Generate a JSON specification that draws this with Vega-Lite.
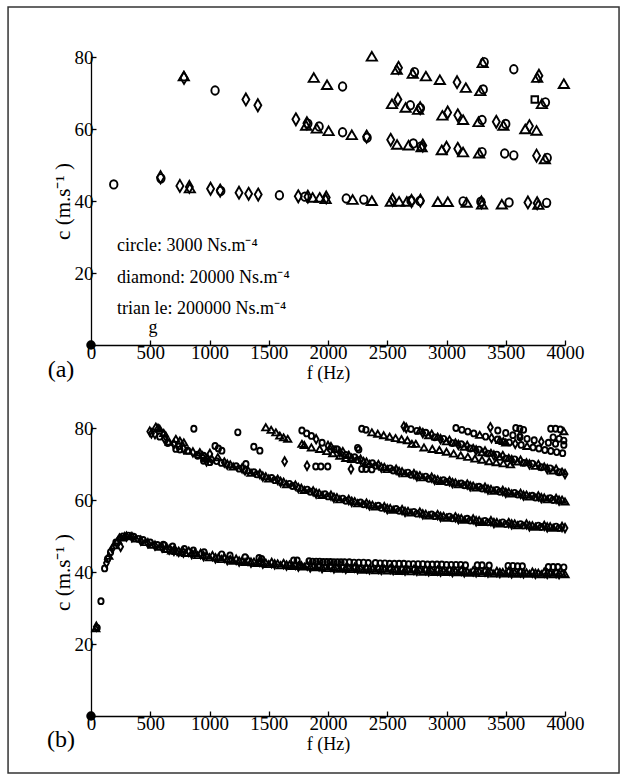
{
"$schema":"https://vega.github.io/schema/vega-lite/v6.json",
"padding":{"left":7,"top":6,"right":0,"bottom":0},
"background":"white",
"bounds":"flush",
"spacing":83,
"config":{"view":{"stroke":null},"font":"Liberation Serif",
"axis":{"labelFont":"Liberation Serif","titleFont":"Liberation Serif","labelFontSize":19,"titleFontSize":18,"titleFontWeight":"normal","labelColor":"black","titleColor":"black","domainColor":"black","tickColor":"black","domainWidth":1.3,"tickWidth":1.3,"tickSize":-5,"grid":false,"labelPadding":3,"titlePadding":0,"labelFlush":false},
"axisX":{"titlePadding":2},
"axisY":{"titleFontSize":21,"titlePadding":1}},
"datasets":{
"a":[
{"f":0,"c":0,"m":"b"},
{"f":783,"c":74.7,"m":"t"},{"f":785,"c":74.2,"m":"d"},{"f":1047,"c":70.7,"m":"o"},{"f":1307,"c":68.2,"m":"d"},{"f":1408,"c":66.6,"m":"d"},
{"f":1880,"c":74.3,"m":"t"},{"f":1992,"c":72.3,"m":"t"},{"f":2123,"c":71.8,"m":"o"},{"f":2370,"c":80.2,"m":"t"},
{"f":2580,"c":76.5,"m":"t"},{"f":2595,"c":77.0,"m":"d"},{"f":2715,"c":75.4,"m":"t"},{"f":2730,"c":75.8,"m":"o"},
{"f":2826,"c":74.7,"m":"t"},{"f":2944,"c":73.7,"m":"t"},{"f":3089,"c":73.0,"m":"d"},{"f":3163,"c":71.5,"m":"t"},
{"f":3285,"c":70.6,"m":"t"},{"f":3310,"c":71.0,"m":"o"},{"f":3305,"c":78.4,"m":"t"},{"f":3318,"c":78.6,"m":"o"},
{"f":3568,"c":76.6,"m":"o"},{"f":3765,"c":74.3,"m":"t"},{"f":3780,"c":74.8,"m":"d"},{"f":3990,"c":72.6,"m":"t"},
{"f":2540,"c":67.0,"m":"t"},{"f":2590,"c":68.2,"m":"d"},{"f":2655,"c":66.0,"m":"t"},{"f":2695,"c":66.6,"m":"o"},
{"f":2760,"c":65.4,"m":"t"},{"f":2780,"c":65.8,"m":"o"},{"f":2778,"c":65.8,"m":"d"},{"f":2965,"c":63.8,"m":"t"},{"f":3010,"c":64.6,"m":"d"},
{"f":3095,"c":63.8,"m":"d"},{"f":3140,"c":62.6,"m":"t"},{"f":3270,"c":62.0,"m":"t"},{"f":3300,"c":62.5,"m":"o"},
{"f":3420,"c":62.0,"m":"d"},{"f":3480,"c":61.0,"m":"t"},{"f":3500,"c":61.4,"m":"o"},{"f":3665,"c":60.0,"m":"t"},{"f":3700,"c":60.8,"m":"d"},{"f":3760,"c":59.6,"m":"t"},
{"f":3745,"c":68.2,"m":"s"},{"f":3805,"c":67.0,"m":"t"},{"f":3835,"c":67.4,"m":"o"},
{"f":1729,"c":62.7,"m":"d"},{"f":1815,"c":61.0,"m":"t"},{"f":1830,"c":61.5,"m":"o"},{"f":1822,"c":61.6,"m":"d"},
{"f":1905,"c":60.2,"m":"t"},{"f":1925,"c":60.7,"m":"o"},{"f":2005,"c":59.5,"m":"t"},{"f":2123,"c":59.1,"m":"o"},{"f":2201,"c":58.4,"m":"t"},
{"f":2326,"c":57.9,"m":"d"},{"f":2330,"c":57.6,"m":"o"},{"f":2529,"c":57.0,"m":"d"},{"f":2583,"c":55.7,"m":"t"},
{"f":2680,"c":55.5,"m":"t"},{"f":2720,"c":56.0,"m":"o"},{"f":2785,"c":55.2,"m":"o"},{"f":2790,"c":55.0,"m":"t"},{"f":2800,"c":55.4,"m":"d"},
{"f":2960,"c":54.2,"m":"t"},{"f":3000,"c":54.8,"m":"d"},{"f":3095,"c":54.5,"m":"d"},{"f":3140,"c":53.6,"m":"t"},
{"f":3275,"c":53.3,"m":"t"},{"f":3300,"c":53.6,"m":"o"},{"f":3491,"c":53.2,"m":"o"},{"f":3568,"c":52.7,"m":"o"},
{"f":3760,"c":52.6,"m":"d"},{"f":3830,"c":51.7,"m":"t"},{"f":3850,"c":52.0,"m":"o"},
{"f":192,"c":44.6,"m":"o"},{"f":587,"c":46.6,"m":"d"},{"f":590,"c":46.3,"m":"o"},{"f":750,"c":44.2,"m":"d"},{"f":834,"c":43.6,"m":"t"},{"f":830,"c":43.9,"m":"d"},
{"f":1009,"c":43.4,"m":"d"},{"f":1090,"c":42.9,"m":"d"},{"f":1095,"c":42.8,"m":"o"},{"f":1249,"c":42.3,"m":"d"},{"f":1330,"c":42.0,"m":"d"},{"f":1411,"c":41.8,"m":"d"},
{"f":1590,"c":41.6,"m":"o"},{"f":1749,"c":41.3,"m":"d"},{"f":1805,"c":41.2,"m":"o"},{"f":1830,"c":41.2,"m":"d"},{"f":1870,"c":41.0,"m":"t"},{"f":1930,"c":41.0,"m":"t"},{"f":1985,"c":41.0,"m":"d"},{"f":1980,"c":40.6,"m":"t"},
{"f":2154,"c":40.7,"m":"o"},{"f":2208,"c":40.4,"m":"t"},{"f":2302,"c":40.4,"m":"o"},{"f":2370,"c":40.1,"m":"t"},
{"f":2530,"c":39.9,"m":"t"},{"f":2545,"c":40.3,"m":"d"},{"f":2600,"c":39.9,"m":"t"},{"f":2665,"c":39.9,"m":"t"},{"f":2700,"c":40.1,"m":"o"},{"f":2705,"c":40.0,"m":"d"},{"f":2775,"c":40.0,"m":"o"},{"f":2780,"c":40.1,"m":"d"},
{"f":2927,"c":39.8,"m":"t"},{"f":3011,"c":39.8,"m":"t"},{"f":3140,"c":39.9,"m":"o"},{"f":3170,"c":39.6,"m":"t"},
{"f":3290,"c":39.8,"m":"o"},{"f":3300,"c":39.1,"m":"t"},{"f":3295,"c":39.6,"m":"d"},{"f":3467,"c":39.1,"m":"t"},{"f":3528,"c":39.6,"m":"o"},
{"f":3687,"c":39.6,"m":"d"},{"f":3765,"c":39.4,"m":"d"},{"f":3775,"c":39.0,"m":"t"},{"f":3845,"c":39.5,"m":"o"}
],
"b":[
{"f":0,"c":0,"m":"b"},
{"f":40,"c":24.4,"m":"t"},{"f":45,"c":24.8,"m":"d"},{"f":52,"c":24.5,"m":"o"},{"f":84,"c":31.9,"m":"o"},{"f":115,"c":41.0,"m":"o"},{"f":130,"c":42.5,"m":"d"},{"f":140,"c":43.6,"m":"o"},{"f":150,"c":44.5,"m":"t"},{"f":165,"c":45.5,"m":"o"},{"f":180,"c":46.5,"m":"d"},{"f":195,"c":47.4,"m":"t"},{"f":210,"c":48.2,"m":"o"},{"f":225,"c":48.8,"m":"t"},{"f":240,"c":49.3,"m":"d"},{"f":250,"c":47.0,"m":"d"},{"f":255,"c":49.6,"m":"t"},{"f":270,"c":49.9,"m":"o"},{"f":285,"c":50.0,"m":"t"},{"f":300,"c":49.8,"m":"d"},{"f":315,"c":50.1,"m":"o"},{"f":330,"c":49.9,"m":"t"},{"f":345,"c":49.7,"m":"d"},{"f":360,"c":49.8,"m":"o"},{"f":380,"c":49.3,"m":"t"},{"f":400,"c":49.2,"m":"o"},{"f":420,"c":48.7,"m":"d"},{"f":440,"c":48.9,"m":"o"},{"f":460,"c":48.3,"m":"t"},{"f":480,"c":48.0,"m":"d"},{"f":500,"c":48.2,"m":"o"},{"f":520,"c":47.6,"m":"t"},{"f":540,"c":47.3,"m":"d"},{"f":560,"c":47.5,"m":"o"},{"f":580,"c":47.0,"m":"t"},{"f":600,"c":46.8,"m":"d"},{"f":620,"c":47.4,"m":"o"},{"f":640,"c":46.4,"m":"t"},{"f":660,"c":46.2,"m":"d"},{"f":680,"c":46.0,"m":"t"},{"f":700,"c":45.9,"m":"d"},{"f":720,"c":45.8,"m":"t"},{"f":740,"c":45.6,"m":"d"},{"f":760,"c":45.5,"m":"t"},{"f":780,"c":45.4,"m":"d"},
{"f":800,"c":45.3,"m":"t"},{"f":850,"c":45.0,"m":"d"},{"f":900,"c":44.7,"m":"t"},{"f":950,"c":44.4,"m":"d"},{"f":1000,"c":44.1,"m":"t"},{"f":1050,"c":43.8,"m":"d"},{"f":1100,"c":43.6,"m":"t"},{"f":1150,"c":43.3,"m":"d"},{"f":1200,"c":43.1,"m":"t"},{"f":1250,"c":42.9,"m":"d"},{"f":1300,"c":42.8,"m":"t"},{"f":1350,"c":42.6,"m":"d"},{"f":1400,"c":42.5,"m":"t"},{"f":1450,"c":42.3,"m":"d"},{"f":1500,"c":42.2,"m":"t"},{"f":1550,"c":42.1,"m":"d"},{"f":1600,"c":41.9,"m":"t"},{"f":1650,"c":41.8,"m":"d"},{"f":1700,"c":41.7,"m":"t"},{"f":1750,"c":41.5,"m":"d"},{"f":1800,"c":41.5,"m":"t"},{"f":1850,"c":41.3,"m":"d"},{"f":1900,"c":41.3,"m":"t"},{"f":1950,"c":41.1,"m":"d"},{"f":2000,"c":41.1,"m":"t"},{"f":2050,"c":41.0,"m":"d"},{"f":2100,"c":40.9,"m":"t"},{"f":2150,"c":40.9,"m":"d"},{"f":2200,"c":40.8,"m":"t"},{"f":2250,"c":40.8,"m":"d"},{"f":2300,"c":40.6,"m":"t"},{"f":2350,"c":40.7,"m":"d"},{"f":2400,"c":40.5,"m":"t"},{"f":2450,"c":40.6,"m":"d"},{"f":2500,"c":40.4,"m":"t"},{"f":2550,"c":40.5,"m":"d"},{"f":2600,"c":40.3,"m":"t"},{"f":2650,"c":40.4,"m":"d"},{"f":2700,"c":40.2,"m":"t"},{"f":2750,"c":40.3,"m":"d"},{"f":2800,"c":40.1,"m":"t"},{"f":2850,"c":40.2,"m":"d"},{"f":2900,"c":40.0,"m":"t"},{"f":2950,"c":40.1,"m":"d"},{"f":3000,"c":40.0,"m":"t"},{"f":3050,"c":40.0,"m":"d"},{"f":3100,"c":39.9,"m":"t"},{"f":3150,"c":39.9,"m":"d"},{"f":3200,"c":39.8,"m":"t"},{"f":3250,"c":39.9,"m":"d"},{"f":3300,"c":39.7,"m":"t"},{"f":3350,"c":39.8,"m":"d"},{"f":3400,"c":39.6,"m":"t"},{"f":3450,"c":39.7,"m":"d"},{"f":3500,"c":39.6,"m":"t"},{"f":3550,"c":39.6,"m":"d"},{"f":3600,"c":39.5,"m":"t"},{"f":3650,"c":39.6,"m":"d"},{"f":3700,"c":39.5,"m":"t"},{"f":3750,"c":39.5,"m":"d"},{"f":3800,"c":39.4,"m":"t"},{"f":3850,"c":39.5,"m":"d"},{"f":3900,"c":39.4,"m":"t"},{"f":3950,"c":39.4,"m":"d"},{"f":4000,"c":39.4,"m":"t"},
{"f":825,"c":45.6,"m":"d"},{"f":875,"c":45.3,"m":"t"},{"f":925,"c":45.0,"m":"d"},{"f":975,"c":44.7,"m":"t"},{"f":1025,"c":44.4,"m":"d"},{"f":1075,"c":44.1,"m":"t"},{"f":1125,"c":43.9,"m":"d"},{"f":1175,"c":43.6,"m":"t"},{"f":1225,"c":43.4,"m":"d"},{"f":1275,"c":43.2,"m":"t"},{"f":1325,"c":43.1,"m":"d"},{"f":1375,"c":42.9,"m":"t"},{"f":1425,"c":42.8,"m":"d"},{"f":1475,"c":42.6,"m":"t"},{"f":1525,"c":42.5,"m":"d"},{"f":1575,"c":42.4,"m":"t"},{"f":1625,"c":42.2,"m":"d"},{"f":1675,"c":42.1,"m":"t"},{"f":1725,"c":42.0,"m":"d"},{"f":1775,"c":41.9,"m":"t"},{"f":1825,"c":41.8,"m":"d"},{"f":1875,"c":41.7,"m":"t"},{"f":1925,"c":41.6,"m":"d"},{"f":1975,"c":41.5,"m":"t"},{"f":2025,"c":41.4,"m":"d"},{"f":2075,"c":41.3,"m":"t"},{"f":2125,"c":41.3,"m":"d"},{"f":2175,"c":41.2,"m":"t"},{"f":2225,"c":41.2,"m":"d"},{"f":2275,"c":41.1,"m":"t"},{"f":2325,"c":41.0,"m":"d"},{"f":2375,"c":41.0,"m":"t"},{"f":2425,"c":40.9,"m":"d"},{"f":2475,"c":40.9,"m":"t"},{"f":2525,"c":40.8,"m":"d"},{"f":2575,"c":40.8,"m":"t"},{"f":2625,"c":40.7,"m":"d"},{"f":2675,"c":40.7,"m":"t"},{"f":2725,"c":40.6,"m":"d"},{"f":2775,"c":40.6,"m":"t"},{"f":2825,"c":40.5,"m":"d"},{"f":2875,"c":40.5,"m":"t"},{"f":2925,"c":40.4,"m":"d"},{"f":2975,"c":40.4,"m":"t"},{"f":3025,"c":40.4,"m":"d"},{"f":3075,"c":40.3,"m":"t"},{"f":3125,"c":40.3,"m":"d"},{"f":3175,"c":40.2,"m":"t"},{"f":3225,"c":40.2,"m":"d"},{"f":3275,"c":40.2,"m":"t"},{"f":3325,"c":40.1,"m":"d"},{"f":3375,"c":40.1,"m":"t"},{"f":3425,"c":40.0,"m":"d"},{"f":3475,"c":40.0,"m":"t"},{"f":3525,"c":40.0,"m":"d"},{"f":3575,"c":39.9,"m":"t"},{"f":3625,"c":39.9,"m":"d"},{"f":3675,"c":39.9,"m":"t"},{"f":3725,"c":39.8,"m":"d"},{"f":3775,"c":39.8,"m":"t"},{"f":3825,"c":39.8,"m":"d"},{"f":3875,"c":39.8,"m":"t"},{"f":3925,"c":39.7,"m":"d"},{"f":3975,"c":39.7,"m":"t"},
{"f":610,"c":47.6,"m":"o"},{"f":689,"c":47.1,"m":"o"},{"f":788,"c":46.4,"m":"o"},{"f":864,"c":46.0,"m":"o"},{"f":954,"c":45.5,"m":"o"},{"f":1103,"c":44.9,"m":"o"},{"f":1173,"c":44.6,"m":"o"},{"f":1300,"c":44.1,"m":"o"},{"f":1418,"c":43.9,"m":"o"},{"f":1440,"c":43.6,"m":"o"},{"f":1710,"c":43.2,"m":"o"},{"f":1740,"c":43.2,"m":"o"},{"f":1720,"c":42.1,"m":"t"},{"f":1760,"c":42.0,"m":"t"},{"f":1840,"c":43.0,"m":"o"},{"f":1870,"c":42.9,"m":"o"},{"f":1900,"c":42.9,"m":"o"},{"f":1930,"c":42.9,"m":"o"},{"f":1960,"c":42.8,"m":"o"},{"f":1990,"c":42.8,"m":"o"},{"f":2020,"c":42.8,"m":"o"},{"f":2050,"c":42.7,"m":"o"},{"f":2080,"c":42.7,"m":"o"},{"f":2110,"c":42.7,"m":"o"},{"f":2140,"c":42.7,"m":"o"},{"f":2180,"c":42.7,"m":"o"},{"f":2220,"c":42.6,"m":"o"},{"f":2260,"c":42.6,"m":"o"},{"f":2300,"c":42.6,"m":"o"},{"f":2340,"c":42.5,"m":"o"},{"f":2400,"c":42.5,"m":"o"},{"f":2440,"c":42.4,"m":"o"},{"f":2480,"c":42.4,"m":"o"},{"f":2520,"c":42.3,"m":"o"},{"f":2560,"c":42.3,"m":"o"},{"f":2600,"c":42.3,"m":"o"},{"f":2640,"c":42.3,"m":"o"},{"f":2680,"c":42.2,"m":"o"},{"f":2720,"c":42.2,"m":"o"},{"f":2760,"c":42.2,"m":"o"},{"f":2800,"c":42.2,"m":"o"},{"f":2840,"c":42.1,"m":"o"},{"f":2880,"c":42.1,"m":"o"},{"f":2920,"c":42.1,"m":"o"},{"f":2960,"c":42.1,"m":"o"},{"f":3000,"c":42.0,"m":"o"},{"f":3040,"c":42.0,"m":"o"},{"f":3080,"c":42.0,"m":"o"},{"f":3120,"c":42.0,"m":"o"},{"f":3160,"c":41.9,"m":"o"},{"f":3260,"c":41.9,"m":"o"},{"f":3300,"c":41.9,"m":"o"},{"f":3360,"c":41.8,"m":"o"},{"f":3520,"c":41.7,"m":"o"},{"f":3560,"c":41.7,"m":"o"},{"f":3600,"c":41.6,"m":"o"},{"f":3640,"c":41.6,"m":"o"},{"f":3860,"c":41.4,"m":"o"},{"f":3900,"c":41.4,"m":"o"},{"f":3940,"c":41.4,"m":"o"},{"f":3990,"c":41.3,"m":"o"},
{"f":496,"c":79.0,"m":"d"},{"f":510,"c":78.5,"m":"d"},{"f":547,"c":80.4,"m":"t"},{"f":565,"c":80.1,"m":"t"},{"f":580,"c":79.8,"m":"t"},{"f":614,"c":78.6,"m":"t"},{"f":631,"c":77.6,"m":"d"},{"f":648,"c":75.8,"m":"o"},{"f":716,"c":77.0,"m":"t"},{"f":750,"c":76.5,"m":"t"},{"f":783,"c":76.0,"m":"t"},{"f":716,"c":74.2,"m":"o"},{"f":750,"c":74.0,"m":"o"},{"f":817,"c":73.7,"m":"o"},{"f":868,"c":79.8,"m":"o"},{"f":900,"c":72.3,"m":"o"},{"f":918,"c":73.3,"m":"t"},{"f":950,"c":72.3,"m":"o"},{"f":1003,"c":72.8,"m":"d"},{"f":950,"c":70.9,"m":"o"},{"f":975,"c":70.7,"m":"d"},{"f":1003,"c":70.5,"m":"o"},{"f":1047,"c":75.0,"m":"o"},{"f":1075,"c":74.3,"m":"o"},{"f":1104,"c":73.7,"m":"o"},{"f":1070,"c":71.9,"m":"t"},{"f":1239,"c":78.8,"m":"o"},{"f":1307,"c":70.0,"m":"o"},{"f":1374,"c":74.8,"m":"o"},{"f":1425,"c":73.7,"m":"o"},{"f":1475,"c":80.2,"m":"t"},{"f":1520,"c":79.5,"m":"t"},{"f":1560,"c":78.8,"m":"t"},{"f":1593,"c":77.9,"m":"t"},{"f":1625,"c":77.4,"m":"t"},{"f":1660,"c":77.0,"m":"t"},{"f":1634,"c":70.7,"m":"d"},
{"f":540,"c":78.3,"m":"d"},{"f":580,"c":77.6,"m":"o"},{"f":620,"c":77.0,"m":"d"},{"f":660,"c":76.2,"m":"t"},{"f":700,"c":75.5,"m":"d"},{"f":740,"c":74.9,"m":"o"},{"f":780,"c":74.3,"m":"d"},{"f":820,"c":73.7,"m":"t"},{"f":860,"c":73.2,"m":"d"},{"f":900,"c":72.6,"m":"o"},{"f":940,"c":72.1,"m":"d"},{"f":980,"c":71.6,"m":"t"},{"f":1020,"c":71.2,"m":"d"},{"f":1060,"c":70.8,"m":"o"},
{"f":1100,"c":70.3,"m":"o"},{"f":1150,"c":69.8,"m":"d"},{"f":1200,"c":69.3,"m":"t"},{"f":1250,"c":68.7,"m":"o"},{"f":1300,"c":68.2,"m":"d"},{"f":1350,"c":67.6,"m":"t"},{"f":1400,"c":67.1,"m":"o"},{"f":1450,"c":66.5,"m":"d"},{"f":1500,"c":66.0,"m":"t"},{"f":1550,"c":65.5,"m":"o"},{"f":1600,"c":65.0,"m":"d"},{"f":1650,"c":64.4,"m":"t"},{"f":1700,"c":63.9,"m":"o"},{"f":1750,"c":63.3,"m":"d"},{"f":1800,"c":62.8,"m":"t"},{"f":1850,"c":62.3,"m":"o"},{"f":1900,"c":61.8,"m":"d"},{"f":1950,"c":61.4,"m":"t"},{"f":2000,"c":61.0,"m":"o"},{"f":2050,"c":60.6,"m":"d"},{"f":2100,"c":60.2,"m":"t"},{"f":2150,"c":59.8,"m":"o"},{"f":2200,"c":59.5,"m":"d"},{"f":2250,"c":59.1,"m":"t"},{"f":2300,"c":58.8,"m":"o"},{"f":2350,"c":58.5,"m":"d"},{"f":2400,"c":58.2,"m":"t"},{"f":2450,"c":57.8,"m":"o"},{"f":2500,"c":57.5,"m":"d"},{"f":2550,"c":57.3,"m":"t"},{"f":2600,"c":57.0,"m":"o"},{"f":2650,"c":56.7,"m":"d"},{"f":2700,"c":56.5,"m":"t"},{"f":2750,"c":56.2,"m":"o"},{"f":2800,"c":56.0,"m":"d"},{"f":2850,"c":55.7,"m":"t"},{"f":2900,"c":55.5,"m":"o"},{"f":2950,"c":55.3,"m":"d"},{"f":3000,"c":55.1,"m":"t"},{"f":3050,"c":54.9,"m":"o"},{"f":3100,"c":54.7,"m":"d"},{"f":3150,"c":54.5,"m":"t"},{"f":3200,"c":54.3,"m":"o"},{"f":3250,"c":54.1,"m":"d"},{"f":3300,"c":53.9,"m":"t"},{"f":3350,"c":53.8,"m":"o"},{"f":3400,"c":53.6,"m":"d"},{"f":3450,"c":53.5,"m":"t"},{"f":3500,"c":53.3,"m":"o"},{"f":3550,"c":53.2,"m":"d"},{"f":3600,"c":53.0,"m":"t"},{"f":3650,"c":52.9,"m":"o"},{"f":3700,"c":52.7,"m":"d"},{"f":3750,"c":52.6,"m":"t"},{"f":3800,"c":52.5,"m":"o"},{"f":3850,"c":52.4,"m":"d"},{"f":3900,"c":52.3,"m":"t"},{"f":3950,"c":52.2,"m":"o"},{"f":4000,"c":52.2,"m":"d"},
{"f":1125,"c":70.4,"m":"d"},{"f":1175,"c":69.9,"m":"t"},{"f":1225,"c":69.4,"m":"o"},{"f":1275,"c":68.8,"m":"d"},{"f":1325,"c":68.3,"m":"t"},{"f":1375,"c":67.7,"m":"o"},{"f":1425,"c":67.2,"m":"d"},{"f":1475,"c":66.6,"m":"t"},{"f":1525,"c":66.1,"m":"o"},{"f":1575,"c":65.6,"m":"d"},{"f":1625,"c":65.1,"m":"t"},{"f":1675,"c":64.5,"m":"o"},{"f":1725,"c":64.0,"m":"d"},{"f":1775,"c":63.4,"m":"t"},{"f":1825,"c":62.9,"m":"o"},{"f":1875,"c":62.4,"m":"d"},{"f":1925,"c":62.0,"m":"t"},{"f":1975,"c":61.6,"m":"o"},{"f":2025,"c":61.2,"m":"d"},{"f":2075,"c":60.8,"m":"t"},{"f":2125,"c":60.4,"m":"o"},{"f":2175,"c":60.0,"m":"d"},{"f":2225,"c":59.7,"m":"t"},{"f":2275,"c":59.3,"m":"o"},{"f":2325,"c":59.0,"m":"d"},{"f":2375,"c":58.7,"m":"t"},{"f":2425,"c":58.4,"m":"o"},{"f":2475,"c":58.0,"m":"d"},{"f":2525,"c":57.8,"m":"t"},{"f":2575,"c":57.5,"m":"o"},{"f":2625,"c":57.2,"m":"d"},{"f":2675,"c":57.0,"m":"t"},{"f":2725,"c":56.7,"m":"o"},{"f":2775,"c":56.5,"m":"d"},{"f":2825,"c":56.2,"m":"t"},{"f":2875,"c":56.0,"m":"o"},{"f":2925,"c":55.8,"m":"d"},{"f":2975,"c":55.6,"m":"t"},{"f":3025,"c":55.4,"m":"o"},{"f":3075,"c":55.2,"m":"d"},{"f":3125,"c":55.0,"m":"t"},{"f":3175,"c":54.8,"m":"o"},{"f":3225,"c":54.6,"m":"d"},{"f":3275,"c":54.4,"m":"t"},{"f":3325,"c":54.2,"m":"o"},{"f":3375,"c":54.1,"m":"d"},{"f":3425,"c":53.9,"m":"t"},{"f":3475,"c":53.8,"m":"o"},{"f":3525,"c":53.6,"m":"d"},{"f":3575,"c":53.5,"m":"t"},{"f":3625,"c":53.3,"m":"o"},{"f":3675,"c":53.2,"m":"d"},{"f":3725,"c":53.0,"m":"t"},{"f":3775,"c":52.9,"m":"o"},{"f":3825,"c":52.8,"m":"d"},{"f":3875,"c":52.7,"m":"t"},{"f":3925,"c":52.6,"m":"o"},{"f":3975,"c":52.5,"m":"d"},
{"f":1780,"c":79.3,"m":"o"},{"f":1820,"c":78.5,"m":"o"},{"f":1860,"c":77.8,"m":"o"},{"f":1900,"c":76.9,"m":"d"},{"f":1950,"c":75.9,"m":"o"},{"f":2000,"c":75.0,"m":"d"},{"f":2050,"c":74.1,"m":"o"},{"f":2100,"c":73.3,"m":"d"},{"f":2150,"c":72.5,"m":"o"},{"f":2200,"c":71.8,"m":"t"},{"f":2250,"c":71.1,"m":"o"},{"f":2300,"c":70.5,"m":"d"},{"f":2350,"c":70.0,"m":"t"},{"f":2400,"c":69.5,"m":"o"},{"f":2450,"c":69.0,"m":"d"},{"f":2500,"c":68.6,"m":"t"},{"f":2550,"c":68.2,"m":"o"},{"f":2600,"c":67.8,"m":"d"},{"f":2650,"c":67.4,"m":"t"},{"f":2700,"c":67.0,"m":"o"},{"f":2750,"c":66.6,"m":"d"},{"f":2800,"c":66.3,"m":"t"},{"f":2850,"c":65.9,"m":"o"},{"f":2900,"c":65.6,"m":"d"},{"f":2950,"c":65.3,"m":"t"},{"f":3000,"c":65.0,"m":"o"},{"f":3050,"c":64.7,"m":"d"},{"f":3100,"c":64.4,"m":"t"},{"f":3150,"c":64.1,"m":"o"},{"f":3200,"c":63.8,"m":"d"},{"f":3250,"c":63.5,"m":"t"},{"f":3300,"c":63.2,"m":"o"},{"f":3350,"c":62.9,"m":"d"},{"f":3400,"c":62.6,"m":"t"},{"f":3450,"c":62.3,"m":"o"},{"f":3500,"c":62.0,"m":"d"},{"f":3550,"c":61.8,"m":"t"},{"f":3600,"c":61.5,"m":"o"},{"f":3650,"c":61.2,"m":"d"},{"f":3700,"c":61.0,"m":"t"},{"f":3750,"c":60.7,"m":"o"},{"f":3800,"c":60.5,"m":"d"},{"f":3850,"c":60.2,"m":"t"},{"f":3900,"c":60.0,"m":"o"},{"f":3950,"c":59.8,"m":"d"},{"f":4000,"c":59.6,"m":"t"},
{"f":2025,"c":75.0,"m":"t"},{"f":2075,"c":74.1,"m":"o"},{"f":2125,"c":73.3,"m":"d"},{"f":2175,"c":72.6,"m":"t"},{"f":2225,"c":71.9,"m":"o"},{"f":2275,"c":71.2,"m":"d"},{"f":2325,"c":70.7,"m":"t"},{"f":2375,"c":70.2,"m":"o"},{"f":2425,"c":69.7,"m":"d"},{"f":2475,"c":69.2,"m":"t"},{"f":2525,"c":68.8,"m":"o"},{"f":2575,"c":68.4,"m":"d"},{"f":2625,"c":68.0,"m":"t"},{"f":2675,"c":67.6,"m":"o"},{"f":2725,"c":67.2,"m":"d"},{"f":2775,"c":66.9,"m":"t"},{"f":2825,"c":66.5,"m":"o"},{"f":2875,"c":66.2,"m":"d"},{"f":2925,"c":65.8,"m":"t"},{"f":2975,"c":65.5,"m":"o"},{"f":3025,"c":65.2,"m":"d"},{"f":3075,"c":64.9,"m":"t"},{"f":3125,"c":64.6,"m":"o"},{"f":3175,"c":64.3,"m":"d"},{"f":3225,"c":64.0,"m":"t"},{"f":3275,"c":63.7,"m":"o"},{"f":3325,"c":63.4,"m":"d"},{"f":3375,"c":63.1,"m":"t"},{"f":3425,"c":62.8,"m":"o"},{"f":3475,"c":62.5,"m":"d"},{"f":3525,"c":62.3,"m":"t"},{"f":3575,"c":62.0,"m":"o"},{"f":3625,"c":61.7,"m":"d"},{"f":3675,"c":61.5,"m":"t"},{"f":3725,"c":61.2,"m":"o"},{"f":3775,"c":61.0,"m":"d"},{"f":3825,"c":60.7,"m":"t"},{"f":3875,"c":60.5,"m":"o"},{"f":3925,"c":60.3,"m":"d"},{"f":3975,"c":60.1,"m":"t"},
{"f":2640,"c":80.4,"m":"d"},{"f":2660,"c":80.0,"m":"d"},{"f":2700,"c":79.7,"m":"o"},{"f":2750,"c":79.2,"m":"o"},{"f":2800,"c":78.6,"m":"d"},{"f":2850,"c":78.0,"m":"t"},{"f":2900,"c":77.4,"m":"o"},{"f":2950,"c":76.9,"m":"d"},{"f":3000,"c":76.3,"m":"t"},{"f":3050,"c":75.8,"m":"o"},{"f":3100,"c":75.3,"m":"d"},{"f":3150,"c":74.8,"m":"t"},{"f":3200,"c":74.3,"m":"o"},{"f":3250,"c":73.8,"m":"d"},{"f":3300,"c":73.3,"m":"t"},{"f":3350,"c":72.9,"m":"o"},{"f":3400,"c":72.4,"m":"d"},{"f":3450,"c":72.0,"m":"t"},{"f":3500,"c":71.5,"m":"o"},{"f":3550,"c":71.1,"m":"d"},{"f":3600,"c":70.7,"m":"t"},{"f":3650,"c":70.3,"m":"o"},{"f":3700,"c":69.9,"m":"d"},{"f":3750,"c":69.5,"m":"t"},{"f":3800,"c":69.1,"m":"o"},{"f":3850,"c":68.6,"m":"d"},{"f":3900,"c":68.2,"m":"t"},{"f":3950,"c":67.7,"m":"o"},{"f":4000,"c":67.2,"m":"d"},
{"f":2775,"c":79.3,"m":"t"},{"f":2825,"c":78.7,"m":"o"},{"f":2875,"c":78.1,"m":"d"},{"f":2925,"c":77.6,"m":"t"},{"f":2975,"c":77.0,"m":"o"},{"f":3025,"c":76.5,"m":"d"},{"f":3075,"c":76.0,"m":"t"},{"f":3125,"c":75.5,"m":"o"},{"f":3175,"c":75.0,"m":"d"},{"f":3225,"c":74.5,"m":"t"},{"f":3275,"c":74.0,"m":"o"},{"f":3325,"c":73.5,"m":"d"},{"f":3375,"c":73.1,"m":"t"},{"f":3425,"c":72.6,"m":"o"},{"f":3475,"c":72.2,"m":"d"},{"f":3525,"c":71.7,"m":"t"},{"f":3575,"c":71.3,"m":"o"},{"f":3625,"c":70.9,"m":"d"},{"f":3675,"c":70.5,"m":"t"},{"f":3725,"c":70.1,"m":"o"},{"f":3775,"c":69.7,"m":"d"},{"f":3825,"c":69.3,"m":"t"},{"f":3875,"c":68.8,"m":"o"},{"f":3925,"c":68.4,"m":"d"},{"f":3975,"c":67.9,"m":"t"},
{"f":2370,"c":78.8,"m":"t"},{"f":2420,"c":78.4,"m":"t"},{"f":2470,"c":78.0,"m":"t"},{"f":2520,"c":77.6,"m":"t"},{"f":2570,"c":77.2,"m":"t"},{"f":2620,"c":76.9,"m":"t"},{"f":2670,"c":76.6,"m":"t"},{"f":2708,"c":75.6,"m":"t"},{"f":2741,"c":75.6,"m":"t"},{"f":2810,"c":74.6,"m":"t"},{"f":2880,"c":74.2,"m":"t"},{"f":2940,"c":73.9,"m":"t"},{"f":3000,"c":73.4,"m":"t"},{"f":3060,"c":72.9,"m":"t"},{"f":3120,"c":72.4,"m":"t"},{"f":3180,"c":72.0,"m":"t"},{"f":3240,"c":71.5,"m":"t"},{"f":3300,"c":71.2,"m":"t"},{"f":3360,"c":70.8,"m":"t"},{"f":3420,"c":70.5,"m":"t"},{"f":3480,"c":70.2,"m":"t"},{"f":3540,"c":69.9,"m":"t"},
{"f":1780,"c":75.6,"m":"t"},{"f":1800,"c":75.3,"m":"t"},{"f":1860,"c":74.6,"m":"t"},{"f":1930,"c":74.2,"m":"t"},{"f":1990,"c":73.6,"m":"t"},{"f":2040,"c":73.0,"m":"t"},{"f":2100,"c":72.3,"m":"t"},{"f":2150,"c":71.7,"m":"t"},{"f":2200,"c":71.4,"m":"t"},
{"f":1823,"c":69.5,"m":"d"},{"f":1897,"c":69.3,"m":"o"},{"f":1940,"c":69.3,"m":"o"},{"f":1998,"c":69.3,"m":"o"},{"f":2194,"c":68.6,"m":"d"},{"f":2285,"c":68.6,"m":"o"},{"f":2320,"c":68.6,"m":"o"},{"f":2370,"c":68.5,"m":"o"},{"f":2285,"c":79.8,"m":"o"},{"f":2320,"c":79.5,"m":"o"},{"f":2250,"c":74.5,"m":"o"},{"f":2260,"c":74.0,"m":"o"},
{"f":3080,"c":80.0,"m":"o"},{"f":3130,"c":79.5,"m":"o"},{"f":3180,"c":79.0,"m":"o"},{"f":3230,"c":78.5,"m":"o"},{"f":3280,"c":78.1,"m":"t"},{"f":3330,"c":77.6,"m":"o"},{"f":3380,"c":77.2,"m":"d"},{"f":3430,"c":76.8,"m":"o"},{"f":3480,"c":76.4,"m":"t"},{"f":3530,"c":76.0,"m":"o"},{"f":3580,"c":75.6,"m":"d"},{"f":3630,"c":75.3,"m":"o"},{"f":3680,"c":75.0,"m":"t"},{"f":3730,"c":74.6,"m":"o"},{"f":3780,"c":74.3,"m":"o"},{"f":3830,"c":73.9,"m":"o"},{"f":3880,"c":73.6,"m":"o"},{"f":3930,"c":73.3,"m":"o"},{"f":3980,"c":73.0,"m":"o"},
{"f":3370,"c":80.2,"m":"d"},{"f":3433,"c":79.3,"m":"o"},{"f":3500,"c":78.6,"m":"o"},{"f":3560,"c":78.0,"m":"o"},{"f":3620,"c":77.4,"m":"o"},{"f":3680,"c":77.0,"m":"o"},{"f":3740,"c":76.6,"m":"o"},{"f":3800,"c":76.2,"m":"d"},{"f":3860,"c":75.9,"m":"o"},{"f":3920,"c":75.6,"m":"o"},{"f":3990,"c":75.3,"m":"o"},
{"f":3585,"c":80.0,"m":"o"},{"f":3619,"c":79.8,"m":"o"},{"f":3650,"c":79.5,"m":"o"},{"f":3880,"c":79.8,"m":"o"},{"f":3920,"c":79.8,"m":"o"},{"f":3960,"c":79.6,"m":"o"},{"f":3990,"c":79.1,"m":"t"},{"f":3450,"c":76.7,"m":"t"},{"f":3500,"c":76.0,"m":"t"},{"f":3620,"c":77.9,"m":"d"},{"f":3900,"c":77.4,"m":"o"},{"f":3950,"c":77.0,"m":"o"},{"f":3990,"c":76.5,"m":"o"}
]
},
"vconcat":[
{"width":474,"height":288,
"layer":[
{"data":{"values":[{}]},"mark":{"type":"rect","fill":"transparent","stroke":"#333","strokeWidth":1.5,"clip":false},
"encoding":{"x":{"datum":-700,"type":"quantitative"},"x2":{"datum":4456},"y":{"datum":93.9,"type":"quantitative"},"y2":{"datum":-118.9}}},
{"data":{"name":"a"},"transform":[{"filter":"datum.m !== 'b'"}],
"mark":{"type":"point","filled":false,"color":"black","strokeWidth":1.9,"size":144,"opacity":1},
"encoding":{
"x":{"field":"f","type":"quantitative","scale":{"domain":[0,4000],"nice":false,"zero":false},"axis":{"values":[0,500,1000,1500,2000,2500,3000,3500,4000],"title":"f (Hz)","format":"d"}},
"y":{"field":"c","type":"quantitative","scale":{"domain":[0,80],"nice":false},"axis":{"values":[20,40,60,80],"title":"c (m.s⁻¹ )"}},
"shape":{"field":"m","type":"nominal","legend":null,"scale":{"domain":["o","d","t","s"],"range":["M-0.62,0A0.62,0.7 0 1,0 0.62,0A0.62,0.7 0 1,0 -0.62,0Z","M0,-1L0.58,0L0,1L-0.58,0Z","M0,-0.72L0.85,0.72L-0.85,0.72Z","M-0.55,-0.55L0.55,-0.55L0.55,0.55L-0.55,0.55Z"]}}}},
{"data":{"name":"a"},"transform":[{"filter":"datum.m === 'b'"}],
"mark":{"type":"point","filled":true,"shape":"circle","size":90,"color":"black","opacity":1},
"encoding":{"x":{"field":"f","type":"quantitative"},"y":{"field":"c","type":"quantitative"}}},
{"data":{"values":[{"f":219,"c":27.6,"t":"circle: 3000 Ns.m⁻⁴"},{"f":219,"c":18.6,"t":"diamond: 20000 Ns.m⁻⁴"},{"f":219,"c":10.0,"t":"trian  le: 200000 Ns.m⁻⁴"},{"f":486,"c":4.6,"t":"g"}]},
"mark":{"type":"text","align":"left","baseline":"middle","font":"Liberation Serif","fontSize":18,"color":"black"},
"encoding":{"x":{"field":"f","type":"quantitative"},"y":{"field":"c","type":"quantitative"},"text":{"field":"t"}}},
{"data":{"values":[{"f":-253,"c":-6.9,"t":"(a)"}]},
"mark":{"type":"text","align":"center","baseline":"middle","font":"Liberation Serif","fontSize":24,"color":"black","clip":false},
"encoding":{"x":{"field":"f","type":"quantitative"},"y":{"field":"c","type":"quantitative"},"text":{"field":"t"}}}
]},
{"width":474,"height":288,
"layer":[
{"data":{"name":"b"},"transform":[{"filter":"datum.m !== 'b'"}],
"mark":{"type":"point","filled":false,"color":"black","strokeWidth":1.9,"size":72,"opacity":1},
"encoding":{
"x":{"field":"f","type":"quantitative","scale":{"domain":[0,4000],"nice":false,"zero":false},"axis":{"values":[0,500,1000,1500,2000,2500,3000,3500,4000],"title":"f (Hz)","format":"d"}},
"y":{"field":"c","type":"quantitative","scale":{"domain":[0,80],"nice":false},"axis":{"values":[20,40,60,80],"title":"c (m.s⁻¹ )"}},
"shape":{"field":"m","type":"nominal","legend":null,"scale":{"domain":["o","d","t","s"],"range":["M-0.62,0A0.62,0.7 0 1,0 0.62,0A0.62,0.7 0 1,0 -0.62,0Z","M0,-1L0.58,0L0,1L-0.58,0Z","M0,-0.72L0.85,0.72L-0.85,0.72Z","M-0.55,-0.55L0.55,-0.55L0.55,0.55L-0.55,0.55Z"]}}}},
{"data":{"name":"b"},"transform":[{"filter":"datum.m === 'b'"}],
"mark":{"type":"point","filled":true,"shape":"circle","size":90,"color":"black","opacity":1},
"encoding":{"x":{"field":"f","type":"quantitative"},"y":{"field":"c","type":"quantitative"}}},
{"data":{"values":[{"f":-253,"c":-6.6,"t":"(b)"}]},
"mark":{"type":"text","align":"center","baseline":"middle","font":"Liberation Serif","fontSize":24,"color":"black","clip":false},
"encoding":{"x":{"field":"f","type":"quantitative"},"y":{"field":"c","type":"quantitative"},"text":{"field":"t"}}}
]}
]
}
